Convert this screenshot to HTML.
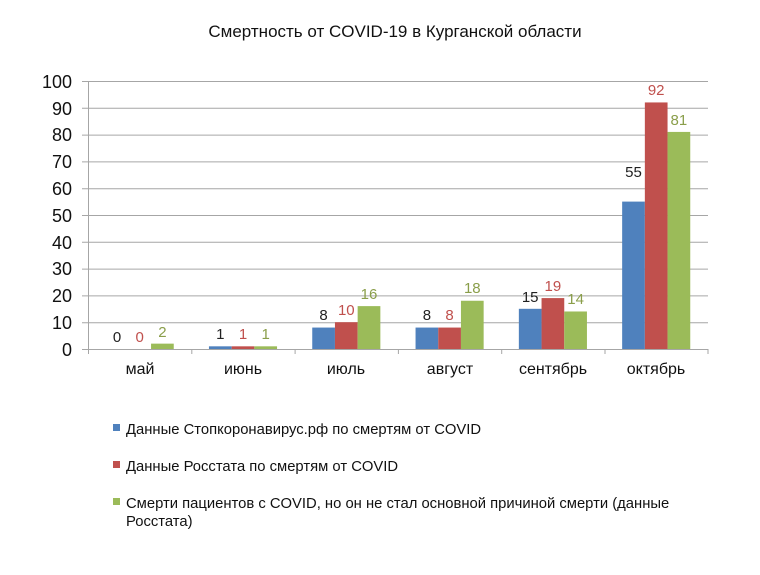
<!DOCTYPE html>
<html><head><meta charset="utf-8"><style>
body{margin:0;background:#fff;}
svg text{font-family:"Liberation Sans","DejaVu Sans",sans-serif;}
</style></head><body>
<svg width="760" height="570" viewBox="0 0 760 570" xmlns="http://www.w3.org/2000/svg">
<rect width="760" height="570" fill="#fff"/>
<text x="395" y="37" font-size="17" text-anchor="middle" fill="#111">Смертность от COVID-19 в Курганской области</text>
<g stroke="#a6a6a6" stroke-width="1">
<line x1="82" y1="81.5" x2="708" y2="81.5"/><line x1="82" y1="108.3" x2="708" y2="108.3"/>
<line x1="82" y1="135.1" x2="708" y2="135.1"/><line x1="82" y1="161.9" x2="708" y2="161.9"/>
<line x1="82" y1="188.7" x2="708" y2="188.7"/><line x1="82" y1="215.5" x2="708" y2="215.5"/>
<line x1="82" y1="242.3" x2="708" y2="242.3"/><line x1="82" y1="269.1" x2="708" y2="269.1"/>
<line x1="82" y1="295.9" x2="708" y2="295.9"/><line x1="82" y1="322.7" x2="708" y2="322.7"/>
<line x1="82" y1="349.5" x2="708" y2="349.5"/>
<line x1="88.5" y1="81" x2="88.5" y2="354"/>
<line x1="191.8" y1="349" x2="191.8" y2="354"/><line x1="295.1" y1="349" x2="295.1" y2="354"/>
<line x1="398.4" y1="349" x2="398.4" y2="354"/><line x1="501.7" y1="349" x2="501.7" y2="354"/>
<line x1="605" y1="349" x2="605" y2="354"/><line x1="708" y1="349" x2="708" y2="354"/>
</g>
<g font-size="18" fill="#111" text-anchor="end">
<text x="72" y="88">100</text><text x="72" y="115">90</text><text x="72" y="141">80</text>
<text x="72" y="168">70</text><text x="72" y="195">60</text><text x="72" y="222">50</text>
<text x="72" y="249">40</text><text x="72" y="275">30</text><text x="72" y="302">20</text>
<text x="72" y="329">10</text><text x="72" y="356">0</text>
</g>
<g>
<rect x="151.05" y="343.64" width="22.7" height="5.36" fill="#9bbb59"/>
<rect x="208.95" y="346.32" width="22.7" height="2.68" fill="#4f81bd"/>
<rect x="231.65" y="346.32" width="22.7" height="2.68" fill="#c0504d"/>
<rect x="254.35" y="346.32" width="22.7" height="2.68" fill="#9bbb59"/>
<rect x="312.25" y="327.56" width="22.7" height="21.44" fill="#4f81bd"/>
<rect x="334.95" y="322.2" width="22.7" height="26.8" fill="#c0504d"/>
<rect x="357.65" y="306.12" width="22.7" height="42.88" fill="#9bbb59"/>
<rect x="415.55" y="327.56" width="22.7" height="21.44" fill="#4f81bd"/>
<rect x="438.25" y="327.56" width="22.7" height="21.44" fill="#c0504d"/>
<rect x="460.95" y="300.76" width="22.7" height="48.24" fill="#9bbb59"/>
<rect x="518.85" y="308.8" width="22.7" height="40.2" fill="#4f81bd"/>
<rect x="541.55" y="298.08" width="22.7" height="50.92" fill="#c0504d"/>
<rect x="564.25" y="311.48" width="22.7" height="37.52" fill="#9bbb59"/>
<rect x="622.15" y="201.6" width="22.7" height="147.4" fill="#4f81bd"/>
<rect x="644.85" y="102.44" width="22.7" height="246.56" fill="#c0504d"/>
<rect x="667.55" y="131.92" width="22.7" height="217.08" fill="#9bbb59"/>
</g>
<g font-size="15" text-anchor="middle">
<text x="117" y="342" fill="#222">0</text><text x="139.7" y="342" fill="#c0504d">0</text><text x="162.4" y="337" fill="#8a9e4a">2</text>
<text x="220.3" y="339" fill="#222">1</text><text x="243" y="339" fill="#c0504d">1</text><text x="265.7" y="339" fill="#8a9e4a">1</text>
<text x="323.6" y="320" fill="#222">8</text><text x="346.3" y="315" fill="#c0504d">10</text><text x="369" y="299" fill="#8a9e4a">16</text>
<text x="426.9" y="320" fill="#222">8</text><text x="449.6" y="320" fill="#c0504d">8</text><text x="472.3" y="293" fill="#8a9e4a">18</text>
<text x="530.2" y="302" fill="#222">15</text><text x="552.9" y="291" fill="#c0504d">19</text><text x="575.6" y="304" fill="#8a9e4a">14</text>
<text x="633.5" y="177" fill="#222">55</text><text x="656.2" y="95" fill="#c0504d">92</text><text x="678.9" y="125" fill="#8a9e4a">81</text>
</g>
<g font-size="16" fill="#111" text-anchor="middle">
<text x="140" y="374">май</text><text x="243" y="374">июнь</text><text x="346" y="374">июль</text>
<text x="450" y="374">август</text><text x="553" y="374">сентябрь</text><text x="656" y="374">октябрь</text>
</g>
<rect x="113" y="424" width="7" height="7" fill="#4f81bd"/>
<text x="126" y="434" font-size="14.8" fill="#111">Данные Стопкоронавирус.рф по смертям от COVID</text>
<rect x="113" y="461" width="7" height="7" fill="#c0504d"/>
<text x="126" y="471" font-size="14.8" fill="#111">Данные Росстата по смертям от COVID</text>
<rect x="113" y="498" width="7" height="7" fill="#9bbb59"/>
<text x="126" y="508" font-size="14.8" fill="#111">Смерти пациентов с COVID, но он не стал основной причиной смерти (данные</text>
<text x="126" y="526" font-size="14.8" fill="#111">Росстата)</text>
</svg>
</body></html>
